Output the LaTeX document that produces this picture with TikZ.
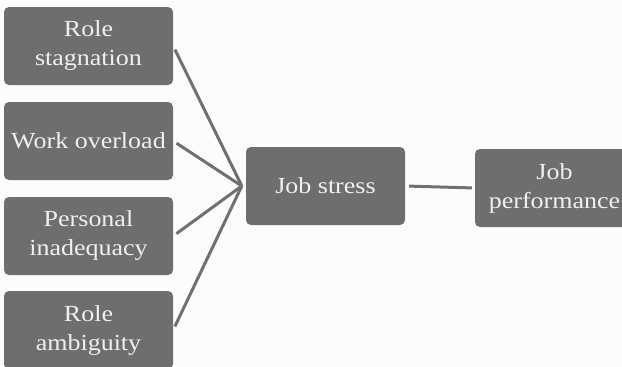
\documentclass[tikz,border=0pt]{standalone}
\usepackage{fontspec}
\setmainfont[FakeStretch=1.13]{Liberation Serif}
\usepackage{tikz}
\usetikzlibrary{
  arrows.meta,              % 箭头样式
  calc,                     % 坐标计算
  positioning               % 节点相对定位
}
\definecolor{boxgray}{RGB}{110,110,110}
\definecolor{linegray}{RGB}{112,112,112}
\definecolor{paper}{RGB}{252,252,252}
\tikzset{
  factor box/.style={
    rectangle,
    rounded corners=5pt,
    fill=boxgray,
    text=white!94!black,
    align=center,
    minimum width=169pt,
    minimum height=78pt,
    inner sep=1pt,
    font=\fontsize{23}{29}\selectfont
  },
  link/.style={
    -,
    line width=3pt,
    color=linegray
  }
}

\begin{document}
\begin{tikzpicture}[x=1pt, y=-1pt]
    % 画布与背景
    \useasboundingbox (0,0) rectangle (622,367);
    \fill[paper] (0,0) rectangle (622,367);

    % --- 左侧：四个压力来源 ---
    \node[factor box] (stagnation) at (88.5, 46)  {Role\\stagnation};
    \node[factor box] (overload)   at (88.5, 141) {Work overload};
    \node[factor box] (inadequacy) at (88.5, 236) {Personal\\inadequacy};
    \node[factor box] (ambiguity)  at (88.5, 330) {Role\\ambiguity};

    % --- 中间与右侧 ---
    \node[factor box, minimum width=159pt] (stress) at (325.5, 186) {Job stress};
    \node[factor box, minimum width=159pt] (perform) at (554.5, 188) {Job\\performance};

    % 汇合点
    \coordinate (hub) at ([xshift=-4pt]stress.west);

    % 连线
    \foreach \src in {stagnation, overload, inadequacy, ambiguity} {
      \draw[link, shorten <=4pt] (\src.east) -- (hub);
    }
    \draw[link, shorten <=4pt, shorten >=3pt] (stress.east) -- (perform.west);

  \end{tikzpicture}
\end{document}
